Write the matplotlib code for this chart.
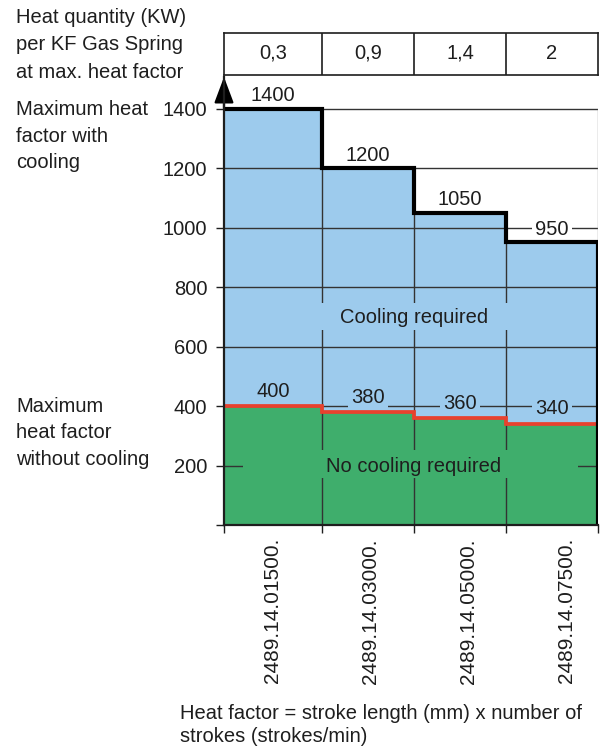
import numpy as np
import matplotlib.pyplot as plt
from matplotlib.patches import Rectangle
import matplotlib.transforms as mtransforms

plt.rcParams['font.family'] = ['Liberation Sans', 'DejaVu Sans']

# data
part_numbers = ['2489.14.01500.', '2489.14.03000.', '2489.14.05000.', '2489.14.07500.']
heat_kw = ['0,3', '0,9', '1,4', '2']
max_with_cooling = np.array([1400, 1200, 1050, 950])
max_without_cooling = np.array([400, 380, 360, 340])
y_ticks = [0, 200, 400, 600, 800, 1000, 1200, 1400]

# column edges (layout, in axis units)
edges = np.array([0, 98, 190, 282, 374])
centers = (edges[:-1] + edges[1:]) / 2

blue = '#9dcbed'
green = '#3fae6c'
red = '#e8412e'
ink = '#1e1e1e'
grid = '#333333'

W, H = 603, 751
fig = plt.figure(figsize=(W / 100, H / 100), dpi=100)
ax = fig.add_axes([224 / W, 1 - 525 / H, 374 / W, 448 / H])
ax.set_xlim(edges[0], edges[-1])
ax.set_ylim(0, 1506)

# fills
ax.stairs(max_with_cooling, edges, baseline=0, fill=True, color=blue, zorder=1)
ax.stairs(max_without_cooling, edges, baseline=0, fill=True, color=green, zorder=1)

# grid lines
ax.hlines(y_ticks[1:], edges[0], edges[-1], color=grid, lw=1.0, zorder=2)
ax.vlines(edges[1:-1], 0, np.minimum(max_with_cooling[:-1], max_with_cooling[1:]),
          color=grid, lw=1.0, zorder=2)
ax.vlines(edges[-1], max_with_cooling[-1], max_with_cooling[0], color='#999999', lw=1.0, zorder=2)

# masks behind the centre texts
ax.add_patch(Rectangle((19, 158), 335, 94, facecolor=green, edgecolor='none', zorder=3))
ax.add_patch(Rectangle((19, 655), 335, 91, facecolor=blue, edgecolor='none', zorder=3))

# value labels
for cx, v in zip(centers, max_with_cooling):
    ax.text(cx, v + 43, str(v), ha='center', va='center', fontsize=14.5, color=ink, zorder=6,
            bbox=dict(facecolor='white', edgecolor='none', pad=2))
for cx, v in zip(centers, max_without_cooling):
    ax.text(cx, v + 50, str(v), ha='center', va='center', fontsize=14.5, color=ink, zorder=6,
            bbox=dict(facecolor=blue, edgecolor='none', pad=2))

ax.text(190, 699, 'Cooling required', ha='center', va='center', fontsize=14.5, color=ink, zorder=6)
ax.text(190, 198, 'No cooling required', ha='center', va='center', fontsize=14.5, color=ink, zorder=6)

# step lines (above the label boxes)
xs = np.repeat(edges, 2)[1:-1]
ax.plot(xs, np.repeat(max_without_cooling, 2), color=red, lw=2.7, zorder=7,
        solid_joinstyle='miter', solid_capstyle='butt')
xs_top = np.append(xs, edges[-1])
ys_top = np.append(np.repeat(max_with_cooling, 2), 0)
ax.plot(xs_top, ys_top, color='black', lw=3.0, zorder=8,
        solid_joinstyle='miter', solid_capstyle='projecting')

# axes styling
for s in ['top', 'right']:
    ax.spines[s].set_visible(False)
for s in ['left', 'bottom']:
    ax.spines[s].set_linewidth(1.6)
    ax.spines[s].set_color(ink)
    ax.spines[s].set_zorder(9)
ax.set_yticks(y_ticks)
ax.set_yticklabels([''] + [str(t) for t in y_ticks[1:]])
ax.set_xticks(edges)
ax.set_xticklabels([])
ax.tick_params(axis='both', direction='out', length=6, width=1.0, color=ink,
               labelsize=14.5, labelcolor=ink, pad=6)

# arrow on y axis
ax.annotate('', xy=(0, 1.0), xytext=(0, 0.93), xycoords='axes fraction',
            arrowprops=dict(arrowstyle='-|>,head_length=0.8,head_width=0.3',
                            mutation_scale=20, color='black', lw=1.6, shrinkA=0, shrinkB=0))

# rotated part numbers
trans = mtransforms.blended_transform_factory(ax.transData, ax.transAxes)
for i, lab in enumerate(part_numbers):
    ax.text(49 + 98 * i, -13 / 448, lab, rotation=90, ha='center', va='top',
            fontsize=15, color=ink, transform=trans)

# header table
hx = fig.add_axes([224 / W, 1 - 75 / H, 374 / W, 42 / H])
hx.set_xlim(edges[0], edges[-1])
hx.set_ylim(0, 1)
hx.set_xticks([])
hx.set_yticks([])
for s in hx.spines.values():
    s.set_linewidth(1.2)
    s.set_color(ink)
hx.vlines(edges[1:-1], 0, 1, color=ink, lw=1.2)
for cx, t in zip(centers, heat_kw):
    hx.text(cx, 0.52, t, ha='center', va='center', fontsize=14.5, color=ink)

# side texts
fig.text(16 / W, 1 - 8 / H, 'Heat quantity (KW)\nper KF Gas Spring\nat max. heat factor',
         ha='left', va='top', fontsize=14.5, color=ink, linespacing=1.55)
fig.text(16 / W, 1 - 100 / H, 'Maximum heat\nfactor with\ncooling',
         ha='left', va='top', fontsize=14.5, color=ink, linespacing=1.5)
fig.text(16 / W, 1 - 397 / H, 'Maximum\nheat factor\nwithout cooling',
         ha='left', va='top', fontsize=14.5, color=ink, linespacing=1.5)
fig.text(180 / W, 1 - 704 / H, 'Heat factor = stroke length (mm) x number of\nstrokes (strokes/min)',
         ha='left', va='top', fontsize=14.5, color=ink, linespacing=1.25)

fig.savefig('out.png', dpi=100)
